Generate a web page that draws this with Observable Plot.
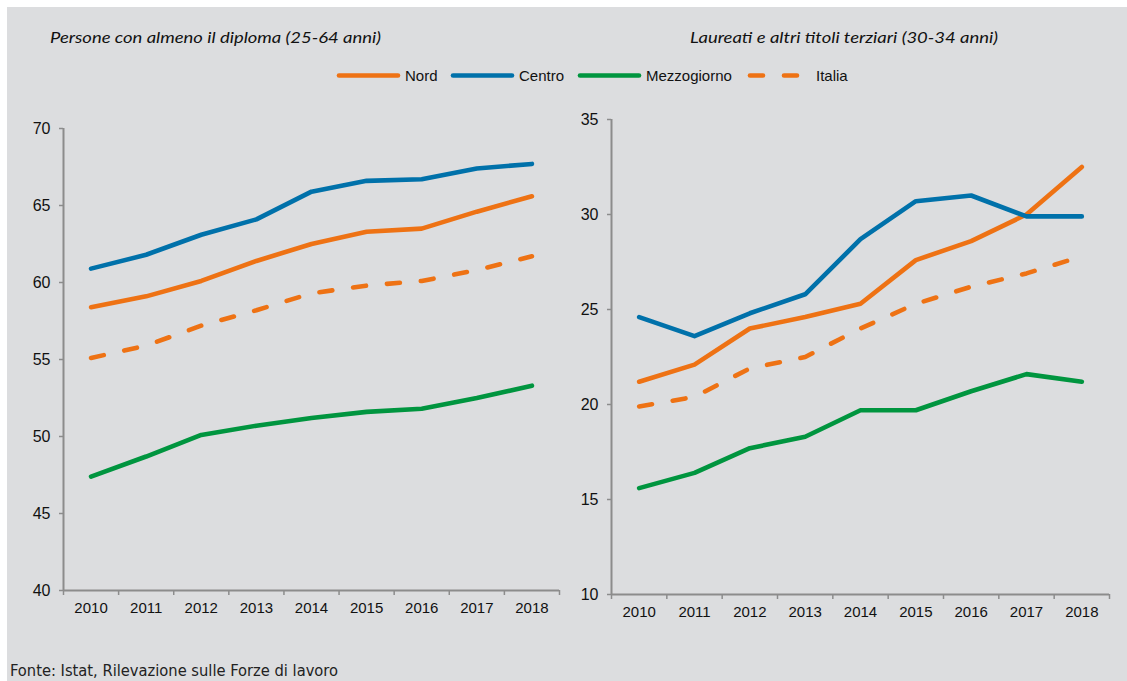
<!DOCTYPE html>
<html><head><meta charset="utf-8">
<script src="https://cdn.jsdelivr.net/npm/d3@7"></script>
<script src="https://cdn.jsdelivr.net/npm/@observablehq/plot@0.6"></script>
<style>
html,body{margin:0;padding:0;background:#fff;width:1127px;height:681px;overflow:hidden;position:relative;}
#bg{position:absolute;left:7px;top:7px;width:1120px;height:674px;background:#dcdddf;}
.panel{position:absolute;top:100px;}
#overlay{position:absolute;left:0;top:0;}
</style>
</head><body>
<div id="bg"></div>
<div id="left" class="panel" style="left:0px"></div>
<div id="right" class="panel" style="left:570px"></div>
<svg id="overlay" width="1127" height="681"></svg>
<script>
// ---- data ----
const years = [2010, 2011, 2012, 2013, 2014, 2015, 2016, 2017, 2018];
const seriesNames = ["Nord", "Centro", "Mezzogiorno", "Italia"];
const seriesColors = ["#ee7214", "#0071aa", "#00953f", "#ee7214"];

// Persone con almeno il diploma (25-64 anni)
const diplomaNord   = [58.4, 59.1, 60.1, 61.4, 62.5, 63.3, 63.5, 64.6, 65.6];
const diplomaCentro = [60.9, 61.8, 63.1, 64.1, 65.9, 66.6, 66.7, 67.4, 67.7];
const diplomaMezzo  = [47.4, 48.7, 50.1, 50.7, 51.2, 51.6, 51.8, 52.5, 53.3];
const diplomaItalia = [55.1, 55.9, 57.2, 58.2, 59.3, 59.8, 60.1, 60.8, 61.7];
const diplomaTicks = [40, 45, 50, 55, 60, 65, 70];

// Laureati e altri titoli terziari (30-34 anni)
const laureaNord   = [21.2, 22.1, 24.0, 24.6, 25.3, 27.6, 28.6, 30.0, 32.5];
const laureaCentro = [24.6, 23.6, 24.8, 25.8, 28.7, 30.7, 31.0, 29.9, 29.9];
const laureaMezzo  = [15.6, 16.4, 17.7, 18.3, 19.7, 19.7, 20.7, 21.6, 21.2];
const laureaItalia = [19.9, 20.4, 21.9, 22.5, 24.0, 25.3, 26.2, 26.9, 27.8];
const laureaTicks = [10, 15, 20, 25, 30, 35];

const titles = ["Persone con almeno il diploma (25-64 anni)", "Laureati e altri titoli terziari (30-34 anni)"];
const caption = "Fonte: Istat, Rilevazione sulle Forze di lavoro";

const axisColor = "#8c8c8c";
const textColor = "#111111";
const font = "'Liberation Sans', Arial, sans-serif";

function rowsOf(name, vals) {
  return years.map((y, i) => ({series: name, year: y, value: vals[i]}));
}

function panel(cfg) {
  const bounds = years.map(y => y - 0.5).concat([years[years.length - 1] + 0.5]);
  const all = [cfg.nord, cfg.centro, cfg.mezzo, cfg.italia];
  const lineMarks = all.map((vals, i) => Plot.line(rowsOf(seriesNames[i], vals), {
    x: "year", y: "value",
    stroke: seriesColors[i], strokeWidth: 4.6,
    strokeLinecap: "round", strokeLinejoin: "round",
    strokeDasharray: seriesNames[i] === "Italia" ? "13,21" : null
  }));
  return Plot.plot({
    width: cfg.width, height: cfg.height,
    marginTop: cfg.mt, marginBottom: cfg.mb, marginLeft: cfg.ml, marginRight: cfg.mr,
    x: {type: "linear", domain: [bounds[0], bounds[bounds.length - 1]], axis: null},
    y: {domain: [cfg.ticks[0], cfg.ticks[cfg.ticks.length - 1]], axis: null},
    style: {background: "transparent", fontFamily: font, fontSize: "15px", color: textColor, overflow: "visible"},
    marks: [
      Plot.axisY({ticks: cfg.ticks, tickSize: 4, tickPadding: 9, stroke: axisColor, strokeWidth: 1.5,
        fill: textColor, fontSize: 16, tickFormat: d => String(d), label: null}),
      Plot.axisX({ticks: bounds, tickSize: 5, tickFormat: () => "", stroke: axisColor, strokeWidth: 1.5, label: null}),
      Plot.axisX({ticks: years, tickSize: 0, tickPadding: 12, tickFormat: d => String(d),
        fill: textColor, fontSize: 15, label: null}),
      Plot.ruleX([bounds[0]], {stroke: axisColor, strokeWidth: 2}),
      Plot.ruleY([cfg.ticks[0]], {stroke: axisColor, strokeWidth: 2}),
      ...lineMarks
    ]
  });
}

document.getElementById("left").appendChild(panel({
  nord: diplomaNord, centro: diplomaCentro, mezzo: diplomaMezzo, italia: diplomaItalia,
  ticks: diplomaTicks, width: 570, height: 520, mt: 28, mb: 30, ml: 63, mr: 11
}));
document.getElementById("right").appendChild(panel({
  nord: laureaNord, centro: laureaCentro, mezzo: laureaMezzo, italia: laureaItalia,
  ticks: laureaTicks, width: 557, height: 520, mt: 19, mb: 26, ml: 41, mr: 18
}));

// ---- titles, legend, caption ----
const ov = d3.select("#overlay");
const titlePos = [[50, 331], [690, 308]];
titles.forEach((t, i) => {
  ov.append("text").attr("x", titlePos[i][0]).attr("y", 43)
    .attr("font-family", "Lato, 'Open Sans', sans-serif").attr("font-style", "italic")
    .attr("font-size", 16).attr("fill", textColor)
    .attr("textLength", titlePos[i][1]).attr("lengthAdjust", "spacingAndGlyphs")
    .text(t);
});

const legendStart = [337, 451, 578, 748];
seriesNames.forEach((name, i) => {
  const x0 = legendStart[i];
  ov.append("line").attr("x1", x0 + 2).attr("x2", x0 + 61).attr("y1", 75.5).attr("y2", 75.5)
    .attr("stroke", seriesColors[i]).attr("stroke-width", 4.6).attr("stroke-linecap", "round")
    .attr("stroke-dasharray", name === "Italia" ? "13,21" : null);
  ov.append("text").attr("x", x0 + 68).attr("y", 81)
    .attr("font-family", font).attr("font-size", 15).attr("fill", textColor).text(name);
});

ov.append("text").attr("x", 10).attr("y", 676)
  .attr("font-family", "'Liberation Sans Narrow', 'DejaVu Sans Condensed', 'Liberation Sans', sans-serif")
  .attr("font-size", 16).attr("fill", "#222")
  .attr("textLength", 328).attr("lengthAdjust", "spacingAndGlyphs")
  .text(caption);
</script>
</body></html>
